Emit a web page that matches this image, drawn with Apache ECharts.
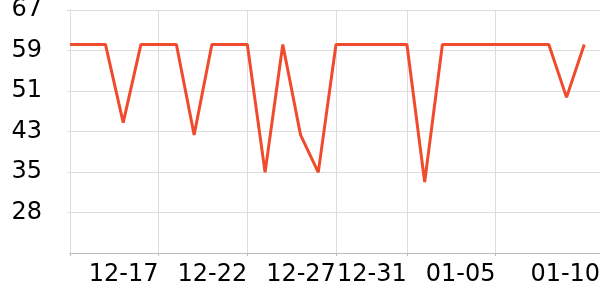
<!DOCTYPE html>
<html>
<head>
<meta charset="utf-8">
<script src="https://cdn.jsdelivr.net/npm/echarts@6/dist/echarts.min.js"></script>
<style>html,body{margin:0;padding:0;background:#fff}#c{width:600px;height:300px}</style>
</head>
<body>
<div id="c"></div>
<script>
var categories = ['12-12','12-13','12-14','12-15','12-16','12-17','12-18','12-19','12-20','12-21','12-22','12-23','12-24','12-25','12-26','12-27','12-28','12-29','12-30','12-31','01-01','01-02','01-03','01-04','01-05','01-06','01-07','01-08','01-09','01-10','01-11'];
var values = [60.3,60.3,60.3,45.1,60.3,60.3,60.3,42.7,60.3,60.3,60.3,35.4,60.3,42.7,35.4,60.3,60.3,60.3,60.3,60.3,33.5,60.3,60.3,60.3,60.3,60.3,60.3,60.3,50.0,60.3];
var labelIdx = [5,10,15,19,24,29];
var tickIdx = [0,5,10,15,19,24];
var yMin = 19.72, yMax = 67, yStep = 7.88;

var chart = echarts.init(document.getElementById('c'));
chart.setOption({
  animation: false,
  grid: {left: 70, top: 10, right: -2, bottom: 47, containLabel: false, outerBoundsMode: 'none'},
  xAxis: {
    type: 'category',
    data: categories,
    boundaryGap: false,
    axisLine: {show: true, lineStyle: {color: '#bbb', width: 1}},
    axisTick: {show: true, length: 3, lineStyle: {color: '#bbb'}, interval: function (i) { return tickIdx.indexOf(i) >= 0; }},
    splitLine: {show: true, lineStyle: {color: '#ddd', width: 1}, interval: function (i) { return tickIdx.indexOf(i) >= 0; }},
    axisLabel: {
      interval: function (i) { return labelIdx.indexOf(i) >= 0; },
      margin: 10,
      align: 'center',
      color: '#000',
      fontSize: 24,
      fontFamily: 'DejaVu Sans',
      formatter: function (v, i) { return (i === 29 ? '{b|' : '{a|') + v + '}'; },
      rich: {
        a: {padding: [0, 70, 0, 0], fontSize: 24, fontFamily: 'DejaVu Sans', color: '#000'},
        b: {padding: [0, 38, 0, 0], fontSize: 24, fontFamily: 'DejaVu Sans', color: '#000'}
      }
    }
  },
  yAxis: {
    type: 'value',
    min: yMin, max: yMax, interval: yStep,
    axisLine: {show: true, lineStyle: {color: '#ddd'}},
    axisTick: {show: true, length: 3, lineStyle: {color: '#ddd'}},
    splitLine: {show: true, lineStyle: {color: '#ddd', width: 1}},
    axisLabel: {
      showMinLabel: false,
      margin: 28,
      color: '#000',
      fontSize: 24,
      fontFamily: 'DejaVu Sans',
      formatter: function (v) { return Math.round(v); }
    }
  },
  series: [{
    type: 'line',
    data: values,
    showSymbol: false,
    symbol: 'none',
    lineStyle: {color: '#f04b2d', width: 3},
    itemStyle: {color: '#f04b2d'}
  }]
});
</script>
</body>
</html>
